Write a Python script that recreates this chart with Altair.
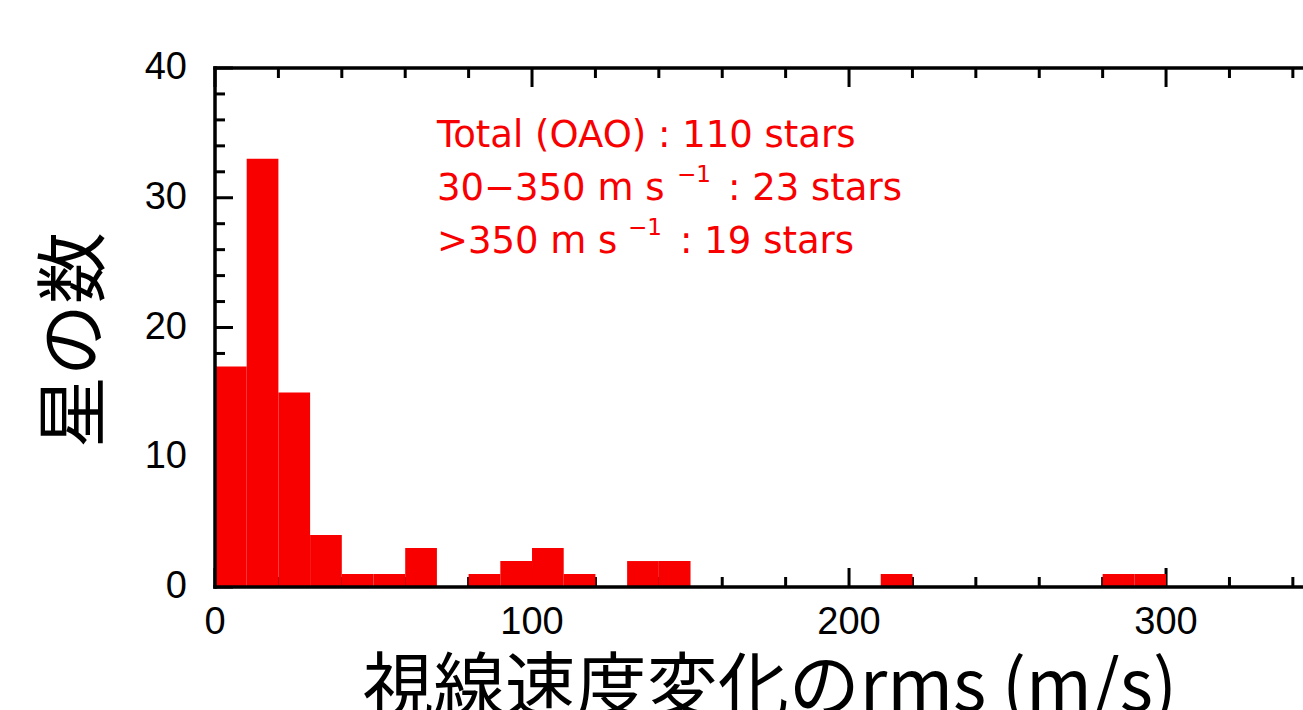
import altair as alt
import pandas as pd

# Histogram of radial-velocity rms: left edge of each 10 m/s bin and star count
bin_start = [0, 10, 20, 30, 40, 50, 60, 80, 90, 100, 110, 130, 140, 210, 280, 290]
counts = [17, 33, 15, 4, 1, 1, 3, 1, 2, 3, 1, 2, 2, 1, 1, 1]
bin_width = 10

# Axis tick values
x_major = [0, 100, 200, 300]
x_minor = [v for v in range(0, 341, 20) if v not in x_major]
y_major = [0, 10, 20, 30, 40]
y_minor = [v for v in range(0, 41, 2) if v not in y_major]

# Axis titles
x_title = "視線速度変化のrms (m/s)"
y_title = "星の数"

# Summary text (lines split where the unit carries a superscript)
note_main = ["Total (OAO) : 110 stars", "30\u2212350 m s", ": 23 stars", ">350 m s", ": 19 stars"]
note_sup = ["\u22121", "\u22121"]

RED = "#f80000"
LABEL_FONT = "Liberation Sans"
NOTE_FONT = "DejaVu Sans"
JP_FONT = "Noto Sans CJK JP"
W, H = 1088, 519
X_MAX, Y_MAX = 343.2, 40
X_FULL = 350  # full extent of the velocity axis

bars = pd.DataFrame({"start": bin_start,
                     "end": [s + bin_width for s in bin_start],
                     "count": counts})

xs = alt.Scale(domain=[0, X_MAX], nice=False, zero=False)
ys = alt.Scale(domain=[0, Y_MAX], nice=False, zero=False)


def X(field):
    return alt.X(field, scale=xs, axis=None)


def Y(field):
    return alt.Y(field, scale=ys, axis=None)


hist = alt.Chart(bars).mark_rect(color=RED).encode(
    x=X("start:Q"), x2="end:Q", y=Y("count:Q"), y2=alt.datum(0))


def xticks(values, length, top):
    y0, y1 = (0, length) if top else (H, H - length)
    return alt.Chart(pd.DataFrame({"v": values})).mark_rule(
        color="black", strokeWidth=3).encode(
        x=X("v:Q"), y=alt.value(y0), y2=alt.value(y1))


def yticks(values, length):
    return alt.Chart(pd.DataFrame({"v": values})).mark_rule(
        color="black", strokeWidth=3).encode(
        y=Y("v:Q"), x=alt.value(0), x2=alt.value(length))


ticks = [xticks(x_minor, 10, True), xticks(x_major, 19, True),
         xticks(x_minor, 10, False), xticks(x_major, 19, False),
         yticks(y_minor, 10), yticks(y_major, 18)]

one = pd.DataFrame({"v": [0]})
frame_style = dict(color="black", strokeWidth=3.5, strokeCap="square")
frame = [
    alt.Chart(one).mark_rule(**frame_style).encode(x=alt.value(0), x2=alt.value(W), y=alt.value(0)),
    alt.Chart(one).mark_rule(**frame_style).encode(x=alt.value(0), x2=alt.value(W), y=alt.value(H)),
    alt.Chart(one).mark_rule(**frame_style).encode(x=alt.value(0), y=alt.value(0), y2=alt.value(H)),
]

# Tick labels
x_lab = alt.Chart(pd.DataFrame({"v": x_major})).mark_text(
    font=LABEL_FONT, fontSize=38, color="black", align="center", baseline="alphabetic").encode(
    x=X("v:Q"), y=alt.value(H + 47), text=alt.Text("v:Q", format="d"))
y_lab = alt.Chart(pd.DataFrame({"v": y_major})).mark_text(
    font=LABEL_FONT, fontSize=38, color="black", align="right", baseline="middle").encode(
    y=Y("v:Q"), x=alt.value(-28), text=alt.Text("v:Q", format="d"))

# Axis titles
x_tt = alt.Chart(pd.DataFrame({"t": [x_title], "x": [X_FULL / 2]})).mark_text(
    font=JP_FONT, fontSize=71, color="black", align="center", baseline="alphabetic").encode(
    x=X("x:Q"), y=alt.value(H + 124), text="t:N")
y_tt = alt.Chart(pd.DataFrame({"t": [y_title]})).mark_text(
    font=JP_FONT, fontSize=72, color="black", align="center", baseline="alphabetic",
    angle=270).encode(
    x=alt.value(-117), y=alt.value(272), text="t:N")

# Summary text placed in data units of the histogram axes
main_txt = pd.DataFrame({"t": note_main,
                         "x": [70.0, 70.0, 161.8, 70.0, 146.7],
                         "y": [33.91, 29.83, 29.83, 25.74, 25.74]})
sup_txt = pd.DataFrame({"t": note_sup, "x": [145.7, 130.3], "y": [31.2, 27.1]})

main_layer = alt.Chart(main_txt).mark_text(
    align="left", baseline="alphabetic", font=NOTE_FONT, fontSize=37, color=RED).encode(
    x=X("x:Q"), y=Y("y:Q"), text="t:N")
sup_layer = alt.Chart(sup_txt).mark_text(
    align="left", baseline="alphabetic", font=NOTE_FONT, fontSize=23, color=RED).encode(
    x=X("x:Q"), y=Y("y:Q"), text="t:N")

chart = alt.layer(*ticks, hist, *frame, x_lab, y_lab, x_tt, y_tt,
                  main_layer, sup_layer).properties(
    width=W, height=H,
    autosize=alt.AutoSizeParams(type="none"),
    padding={"left": 215, "top": 68, "right": 0, "bottom": 123},
    background="white",
).configure_view(strokeWidth=0)

chart.save("out.html", embed_options={"renderer": "svg", "actions": False})
